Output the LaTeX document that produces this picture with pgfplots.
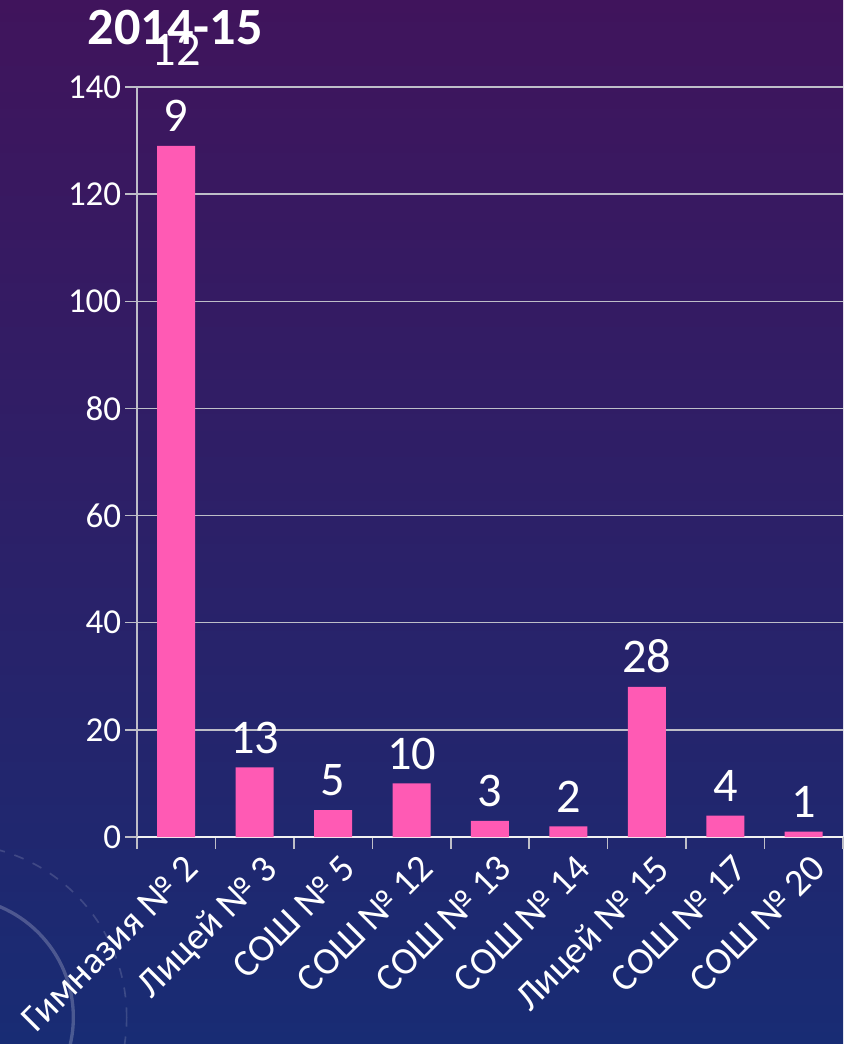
\documentclass[border=0pt]{standalone}
\usepackage{fontspec}
\setmainfont{Carlito}
\usepackage{pgfplots}
\pgfplotsset{compat=1.18}
\definecolor{barpink}{RGB}{255,90,180}
\definecolor{bgtop}{RGB}{64,20,92}
\definecolor{bgmid}{RGB}{46,30,110}
\definecolor{bgbot}{RGB}{24,44,116}
\definecolor{gridc}{RGB}{190,190,200}
\begin{document}
\begin{tikzpicture}
\path[use as bounding box] (0,0) rectangle (252.9pt,313.2pt);
\shade[top color=bgtop, middle color=bgmid, bottom color=bgbot] (0,0) rectangle (252.9pt,313.2pt);
\begin{scope}
\clip (0,0) rectangle (252.9pt,313.2pt);
\draw[white, opacity=0.22, line width=1pt] (-14pt,8pt) circle (36pt);
\draw[white, opacity=0.15, line width=0.5pt, dashed] (-14pt,8pt) circle (52pt);
\end{scope}
\node[anchor=base west, text=white, font=\fontsize{15.7}{18}\selectfont\bfseries, inner sep=0pt] at (26.1pt,299.7pt) {2014-15};
\begin{axis}[
  at={(41.1pt,62.1pt)}, anchor=south west,
  scale only axis, width=211.8pt, height=225pt,
  xmin=-0.5, xmax=8.5, ymin=0, ymax=140,
  ytick={0,20,...,140},
  xtick={-0.5,0.5,...,8.5},
  x tick label as interval,
  xticklabels={Гимназия № 2, Лицей № 3, СОШ № 5, СОШ № 12, СОШ № 13, СОШ № 14, Лицей № 15, СОШ № 17, СОШ № 20},
  xticklabel style={rotate=45, anchor=north east, font=\fontsize{11.5}{13}\selectfont, text=white, inner sep=1pt, xshift=1.6pt, yshift=-1pt},
  yticklabel style={font=\fontsize{10.5}{12}\selectfont, text=white, xshift=2.4pt},
  /pgf/number format/assume math mode=true,
  axis lines*=left,
  axis line style={-, draw=gridc, line width=0.45pt},
  x axis line style={draw=white!90!gray},
  tick align=outside,
  major tick length=3.6pt,
  tick style={draw=gridc, line width=0.45pt},
  ymajorgrids, grid style={draw=gridc, line width=0.45pt},
  clip=false,
]
\addplot[ybar, fill=barpink, draw=none, bar width=11.4pt,
  nodes near coords, point meta=explicit symbolic,
  every node near coord/.style={text=white, font=\fontsize{14.5}{19.8}\selectfont, align=center, anchor=south, inner sep=0pt, yshift=4pt}]
  coordinates {
    (0,129) [{12\\9}]
    (1,13) [13]
    (2,5) [5]
    (3,10) [10]
    (4,3) [3]
    (5,2) [2]
    (6,28) [28]
    (7,4) [4]
    (8,1) [1]
  };
\end{axis}
\end{tikzpicture}
\end{document}
